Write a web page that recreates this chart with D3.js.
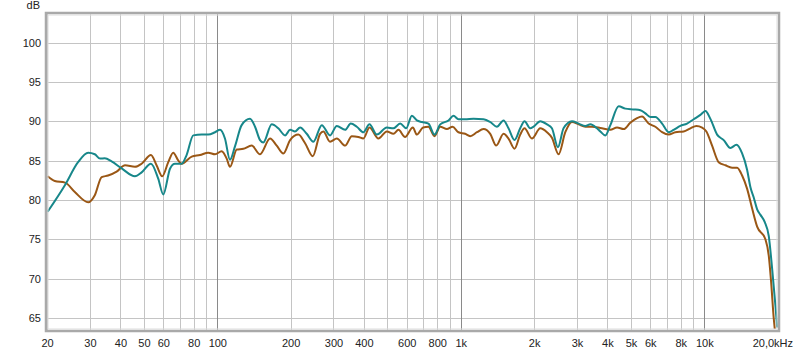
<!DOCTYPE html>
<html>
<head>
<meta charset="utf-8">
<script src="https://cdn.jsdelivr.net/npm/d3@7"></script>
<style>
  body { margin: 0; background: #fff; }
  svg text { font-family: "Liberation Sans", Arial, sans-serif; font-size: 11px; fill: #222; }
</style>
</head>
<body>
<div id="chart"></div>
<script>
const tealFreq = [20.1, 23.7, 26.8, 29.5, 31.4, 33.0, 34.5, 36.8, 40.5, 45.9, 48.9, 53.4, 57.2, 60.0, 64.0, 67.0, 71.4, 74.8, 79.7, 86.3, 91.8, 97.9, 102.6, 107.5, 112.7, 118.2, 125.9, 136.2, 142.9, 149.8, 154.5, 167.4, 178, 189.8, 199.1, 208.5, 218.8, 232.9, 248.1, 268.6, 290.4, 309.6, 335, 353.2, 374, 398.1, 421.7, 452, 496.9, 528.7, 563.7, 596.6, 629.6, 660, 692.6, 736.4, 779.8, 823.1, 890, 933.3, 978, 1042, 1128, 1240, 1321, 1406, 1498, 1570, 1662, 1754, 1827, 1928, 1990, 2120, 2259, 2367, 2506, 2642, 2862, 3048, 3247, 3404, 3625, 3741, 3923, 4113, 4449, 4740, 5129, 5460, 5728, 6000, 6295, 6709, 7140, 7482, 7974, 8493, 9046, 9638, 10104, 10594, 11287, 12015, 12804, 13552, 14300, 14996, 15470, 15960, 16482, 17008, 17700, 18400, 19000, 19590, 19920];
const tealDb = [78.5, 81.9, 84.8, 86.0, 85.8, 85.25, 85.3, 84.9, 84.0, 83.0, 83.5, 84.6, 82.7, 80.7, 84.0, 84.6, 84.6, 85.7, 88.2, 88.3, 88.3, 88.6, 88.9, 87.8, 85.1, 86.8, 89.5, 90.3, 89.3, 87.6, 87.3, 89.6, 89.1, 88.2, 88.9, 88.7, 89.2, 88.4, 87.4, 89.5, 88.2, 89.4, 88.9, 89.7, 89.3, 88.6, 89.6, 88.3, 89.2, 89.1, 89.7, 89.1, 90.7, 90.1, 89.9, 89.7, 88.3, 89.6, 90.1, 90.7, 90.25, 90.25, 90.3, 90.25, 89.9, 89.3, 90.1, 89.1, 87.6, 89.1, 90.0, 89.1, 89.3, 90.0, 89.6, 89.1, 86.7, 89.1, 90.0, 89.7, 89.4, 89.6, 89.1, 88.7, 88.2, 89.5, 91.9, 91.6, 91.5, 91.4, 91.0, 90.55, 90.55, 89.7, 88.6, 88.9, 89.4, 89.7, 90.25, 90.8, 91.3, 90.3, 88.3, 87.6, 86.6, 87.0, 85.9, 83.8, 81.6, 80.3, 78.8, 78.1, 77.2, 75.4, 71.2, 66.6, 63.8];

const brownFreq = [20.1, 21.5, 23.7, 26.0, 29.5, 31.4, 33.5, 35.6, 38.6, 41.8, 45.9, 48.9, 53.4, 56.3, 59.4, 62.9, 65.9, 69.2, 71.4, 78.5, 84.9, 91.8, 97.9, 104.2, 109.3, 112.7, 120.2, 127.9, 138.4, 149.8, 164.7, 175.4, 186.8, 199.1, 215.3, 229.4, 246.6, 264.3, 272.7, 290.4, 309.6, 335, 356.8, 379.6, 398.1, 421.7, 458.8, 496.9, 528.7, 554.6, 590.3, 635.3, 660, 700, 736, 779.8, 823, 877, 924.7, 978, 1042, 1093, 1165, 1240, 1321, 1398, 1498, 1570, 1662, 1754, 1827, 1959, 2120, 2259, 2367, 2521, 2686, 2862, 3048, 3247, 3459, 3741, 4113, 4381, 4666, 4966, 5294, 5550, 5908, 6295, 6709, 7140, 7605, 8228, 8770, 9280, 9795, 10200, 10765, 11455, 12210, 13002, 13640, 14300, 14996, 15723, 16482, 17825, 18400, 18820, 19290, 19470];
const brownDb = [83.0, 82.4, 82.2, 81.0, 79.7, 80.6, 82.9, 83.1, 83.6, 84.4, 84.2, 84.6, 85.7, 84.4, 83.0, 84.8, 86.0, 85.0, 84.6, 85.5, 85.7, 86.0, 85.8, 86.2, 85.25, 84.2, 86.4, 86.5, 86.9, 85.8, 87.8, 86.9, 85.9, 87.6, 88.3, 87.2, 85.55, 88.4, 88.7, 87.4, 87.8, 86.9, 88.1, 88.0, 87.8, 89.2, 87.8, 88.7, 88.4, 88.9, 88.0, 89.2, 88.3, 89.2, 89.3, 88.1, 89.3, 89.0, 89.3, 88.6, 88.4, 88.1, 88.6, 89.0, 88.4, 86.9, 88.4, 87.8, 86.5, 88.3, 89.1, 87.8, 89.1, 88.6, 87.9, 85.8, 88.6, 89.9, 89.6, 89.3, 89.3, 89.15, 88.9, 89.2, 89.0, 89.8, 90.4, 90.6, 89.7, 89.3, 88.6, 88.3, 88.6, 88.7, 89.1, 89.4, 89.2, 88.7, 86.9, 84.8, 84.4, 84.1, 84.1, 83.1, 81.4, 78.9, 76.6, 75.0, 72.9, 69.5, 64.9, 63.6];

const gridFreqs = [20, 30, 40, 50, 60, 70, 80, 90, 100, 200, 300, 400, 500, 600, 700, 800, 900, 1000, 2000, 3000, 4000, 5000, 6000, 7000, 8000, 9000, 10000, 20000];
const decadeFreqs = [100, 1000, 10000];
const xTickValues = [20, 30, 40, 50, 60, 80, 100, 200, 300, 400, 600, 800, 1000, 2000, 3000, 4000, 5000, 6000, 8000, 10000];
const xTickLabels = ["20", "30", "40", "50", "60", "80", "100", "200", "300", "400", "600", "800", "1k", "2k", "3k", "4k", "5k", "6k", "8k", "10k"];
const yTicks = [65, 70, 75, 80, 85, 90, 95, 100];

const width = 800, height = 352;
const plot = { left: 47, top: 14, right: 778, bottom: 330 };

const svg = d3.select("#chart").append("svg")
    .attr("width", width)
    .attr("height", height);

const x = d3.scaleLog().domain([20, 20000]).range([47.1, 777.6]);
const y = d3.scaleLinear().domain([65, 100]).range([318, 42.5]);

// plot background
svg.append("rect")
    .attr("x", plot.left).attr("y", plot.top)
    .attr("width", plot.right - plot.left).attr("height", plot.bottom - plot.top)
    .attr("fill", "#fff");

// grid
const grid = svg.append("g");
grid.selectAll(".hg").data(yTicks).enter().append("line")
    .attr("x1", plot.left).attr("x2", plot.right)
    .attr("y1", d => Math.round(y(d)) + 0.5).attr("y2", d => Math.round(y(d)) + 0.5)
    .attr("stroke", "#c4c4c4");
grid.selectAll(".vg").data(gridFreqs).enter().append("line")
    .attr("x1", d => Math.round(x(d)) + 0.5).attr("x2", d => Math.round(x(d)) + 0.5)
    .attr("y1", plot.top).attr("y2", plot.bottom)
    .attr("stroke", d => decadeFreqs.includes(d) ? "#8a8a8a" : "#c4c4c4");

// curves
svg.append("clipPath").attr("id", "clip").append("rect")
    .attr("x", plot.left).attr("y", plot.top)
    .attr("width", plot.right - plot.left).attr("height", plot.bottom - plot.top);

const line = d3.line()
    .x(d => x(d[0]))
    .y(d => y(d[1]))
    .curve(d3.curveMonotoneX);

const curves = svg.append("g").attr("clip-path", "url(#clip)");
curves.append("path")
    .datum(d3.zip(brownFreq, brownDb))
    .attr("d", line)
    .attr("fill", "none")
    .attr("stroke", "#9a5715")
    .attr("stroke-width", 2);
curves.append("path")
    .datum(d3.zip(tealFreq, tealDb))
    .attr("d", line)
    .attr("fill", "none")
    .attr("stroke", "#17878a")
    .attr("stroke-width", 2);

// frame
svg.append("rect")
    .attr("x", plot.left - 1).attr("y", plot.top - 1)
    .attr("width", plot.right - plot.left + 2).attr("height", plot.bottom - plot.top + 2)
    .attr("fill", "none")
    .attr("stroke", "#a9a9a9")
    .attr("stroke-width", 2.5);
svg.append("rect")
    .attr("x", plot.left + 1).attr("y", plot.top + 1)
    .attr("width", plot.right - plot.left - 2).attr("height", plot.bottom - plot.top - 2)
    .attr("fill", "none")
    .attr("stroke", "#dcdcdc")
    .attr("stroke-width", 1);

// axes
const xAxis = d3.axisBottom(x)
    .tickValues(xTickValues)
    .tickFormat((d, i) => xTickLabels[i])
    .tickSize(0)
    .tickPadding(0);
const gx = svg.append("g").attr("transform", "translate(0,339)").call(xAxis);
gx.select(".domain").remove();
gx.selectAll("text").attr("dy", "0.71em").style("font-family", null).style("font-size", null);

svg.append("text")
    .attr("x", 793).attr("y", 347)
    .attr("text-anchor", "end")
    .text("20,0kHz");

const yAxis = d3.axisLeft(y)
    .tickValues(yTicks)
    .tickSize(0)
    .tickPadding(0);
const gy = svg.append("g").attr("transform", "translate(41,0)").call(yAxis);
gy.select(".domain").remove();
gy.selectAll("text").style("font-family", null).style("font-size", null);

svg.append("text")
    .attr("x", 40).attr("y", 9)
    .attr("text-anchor", "end")
    .text("dB");
</script>
</body>
</html>
